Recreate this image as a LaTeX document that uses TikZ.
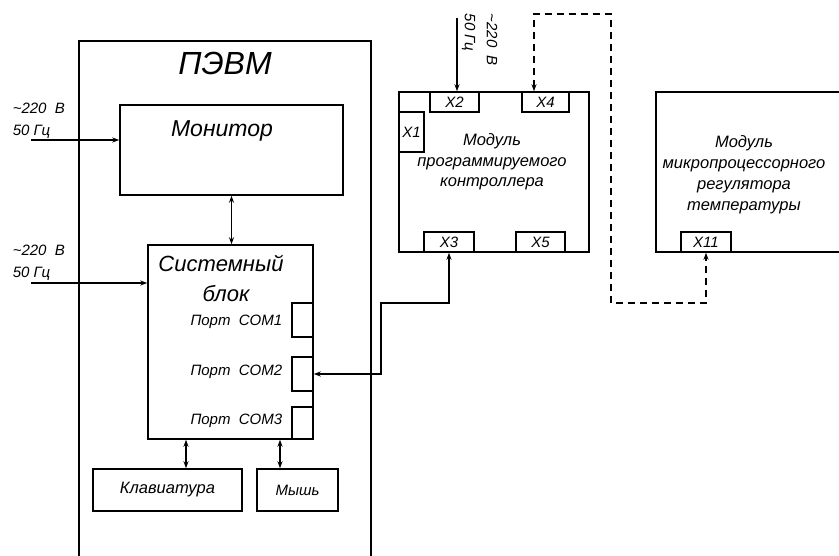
\documentclass[tikz,border=0pt]{standalone}
\usepackage{fontspec}
\setmainfont{Liberation Sans}
\usetikzlibrary{calc, positioning, arrows.meta}

\begin{document}
\begin{tikzpicture}[x=1pt, y=-1pt, line width=1.5pt, >={Stealth[length=7pt,width=5pt]},
  blk/.style={draw, inner sep=0pt, minimum width=#1},
  txt/.style={inner sep=0pt, font=\fontsize{#1}{#1}\selectfont\itshape},
  power/.style={inner sep=0pt, align=left, font=\fontsize{15}{22}\selectfont\itshape},
  lines/.style={inner sep=0pt, align=center, font=\fontsize{16.5}{20.5}\selectfont\itshape}]
  \clip (0,0) rectangle (839,555);

  % computer
  \node[blk=292, minimum height=539] (pevm) at (225,310.5) {};
  \node[txt=32] (pevmt) at (225,63) {ПЭВМ};

  \node[blk=223, minimum height=90] (mon) at (231.5,150) {};
  \node[txt=23] (mont) at (222,131) {Монитор};

  \node[blk=165, minimum height=194] (sys) at (230.5,342) {};
  \node[txt=22] (syst1) at (221,263) {Системный};
  \node[txt=22] (syst2) at (226,294) {блок};

  \node[blk=21, minimum height=34] (p1) at (302.5,320) {};
  \node[blk=21, minimum height=34] (p2) at (302.5,374) {};
  \node[blk=21, minimum height=32] (p3) at (302.5,423) {};
  \node[txt=15, anchor=east] (p1t) at (283,322) {Порт\ \ COM1};
  \node[txt=15, anchor=east] (p2t) at (283,372) {Порт\ \ COM2};
  \node[txt=15, anchor=east] (p3t) at (283,421) {Порт\ \ COM3};

  \node[blk=149, minimum height=42] (kbd) at (167.5,490) {};
  \node[txt=16.5] (kbdt) at (kbd) {Клавиатура};
  \node[blk=81, minimum height=42] (mouse) at (297.5,490) {};
  \node[txt=15] (mouset) at (mouse) {Мышь};

  \draw[<->] (mon.south) -- (mon.south |- sys.north);
  \draw[<->] ([xshift=18.5pt]kbd.north) -- ([xshift=18.5pt]kbd.north |- sys.south);
  \draw[<->] ([xshift=-17.5pt]mouse.north) -- ([xshift=-17.5pt]mouse.north |- sys.south);

  % power
  \coordinate (pw1) at (31,140);
  \coordinate (pw2) at (31,283);
  \node[power, anchor=south west] (pw1t) at (12,139) {\textasciitilde220\ \ В\\50 Гц};
  \node[power, anchor=south west] (pw2t) at (12,281) {\textasciitilde220\ \ В\\50 Гц};
  \draw[->] (pw1) -- (pw1 -| mon.west);
  \draw[->] (pw2) -- (pw2 -| sys.west);

  % controller
  \node[blk=190, minimum height=160] (ctrl) at (494,172) {};
  \node[lines] (ctrlt) at (492,162) {Модуль\\программируемого\\контроллера};
  \node[blk=49, minimum height=20, txt=15] (x2) at (454.5,102) {X2};
  \node[blk=47, minimum height=20, txt=15] (x4) at (545.5,102) {X4};
  \node[blk=25, minimum height=40, txt=15] (x1) at (411.5,132) {X1};
  \node[blk=50, minimum height=20, txt=15] (x3) at (449,242) {X3};
  \node[blk=49, minimum height=20, txt=15] (x5) at (540.5,242) {X5};

  \coordinate (pw3) at (457,18);
  \draw[->] (pw3) -- (pw3 |- x2.north);
  \node[power, anchor=north west, rotate=-90] (pw3t) at (498,13) {\textasciitilde220\ \ В\\50 Гц};

  % regulator
  \node[blk=244, minimum height=160] (reg) at (778,172) {};
  \node[lines, font=\fontsize{16.5}{21}\selectfont\itshape] (regt) at (744,175) {Модуль\\микропроцессорного\\регулятора\\температуры};
  \node[blk=50, minimum height=20, txt=15] (x11) at (706,242) {X11};

  % links
  \coordinate (bend) at (381,303);
  \draw[<->] (p2.east) -| (bend) -| (x3.south);

  \coordinate (dtop) at (611,14);
  \coordinate (dbot) at (611,303);
  \draw[<->, dash pattern=on 7pt off 5pt] ([xshift=-11.5pt]x4.north) |- (dtop) -- (dbot) -| (x11.south);
\end{tikzpicture}
\end{document}
